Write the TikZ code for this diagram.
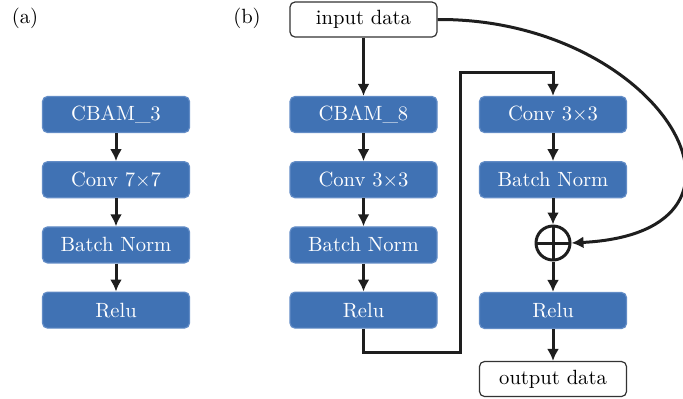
\documentclass[tikz,border=0pt]{standalone}
\usepackage{tikz}
\usetikzlibrary{arrows.meta,positioning}
\definecolor{boxblue}{RGB}{64,114,180}
\definecolor{boxedge}{RGB}{98,140,198}
\definecolor{linegray}{RGB}{30,30,30}

\begin{document}
\begin{tikzpicture}[
    x=0.5pt, y=-0.5pt,
    node distance=14pt,
    layer/.style={draw=boxedge, line width=0.6pt, rounded corners=2.5pt, fill=boxblue, text=white, align=center, minimum width=73.5pt, minimum height=18pt, font=\fontsize{10.3}{12}\selectfont},
    io/.style={draw=black!80, line width=0.6pt, rounded corners=2.5pt, fill=white, align=center, minimum width=73.5pt, minimum height=17.5pt, font=\fontsize{10.3}{12}\selectfont},
    sum/.style={draw=linegray, circle, line width=1.5pt, minimum size=17pt, inner sep=0pt,
        path picture={\draw[line width=1.5pt, linegray] (path picture bounding box.north) -- (path picture bounding box.south) (path picture bounding box.west) -- (path picture bounding box.east);}},
    arrow/.style={-{Latex[length=6pt,width=6pt]}, line width=1.5pt, draw=linegray},
    tag/.style={font=\fontsize{10.3}{12}\selectfont}
]
\useasboundingbox (0,0) rectangle (683,398);

% (a)
\node[tag] (taga) at (25,18) {(a)};
\node[layer] (cbamA) at (116,114.5) {CBAM\_3};
\node[layer, below=of cbamA] (convA) {Conv 7$\times$7};
\node[layer, below=of convA] (bnA) {Batch Norm};
\node[layer, below=of bnA] (reluA) {Relu};
\draw[arrow] (cbamA) -- (convA);
\draw[arrow] (convA) -- (bnA);
\draw[arrow] (bnA) -- (reluA);

% (b)
\node[tag] (tagb) at (247,18) {(b)};
\node[io] (input) at (363.5,19.5) {input data};
\node[layer] (cbamB) at (363.5,114.5) {CBAM\_8};
\node[layer, below=of cbamB] (convB) {Conv 3$\times$3};
\node[layer, below=of convB] (bnB) {Batch Norm};
\node[layer, below=of bnB] (reluB) {Relu};
\node[layer] (convR) at (553,114.5) {Conv 3$\times$3};
\node[layer, below=of convR] (bnR) {Batch Norm};
\node[sum] (add) at (553,243) {};
\node[layer] (reluR) at (553,310.5) {Relu};
\node[io] (output) at (553,379) {output data};
\coordinate (turnA) at (460,352);
\coordinate (turnB) at (460,72);

\draw[arrow] (input) -- (cbamB);
\draw[arrow] (cbamB) -- (convB);
\draw[arrow] (convB) -- (bnB);
\draw[arrow] (bnB) -- (reluB);
\draw[arrow] (reluB.south) |- (turnA) -- (turnB) -| (convR.north);
\draw[arrow] (convR) -- (bnR);
\draw[arrow] (bnR) -- (add);
\draw[arrow] (add) -- (reluR);
\draw[arrow] (reluR) -- (output);
\draw[arrow] (input.east) .. controls (660,18) and (788,232) .. (add.east);
\end{tikzpicture}
\end{document}
